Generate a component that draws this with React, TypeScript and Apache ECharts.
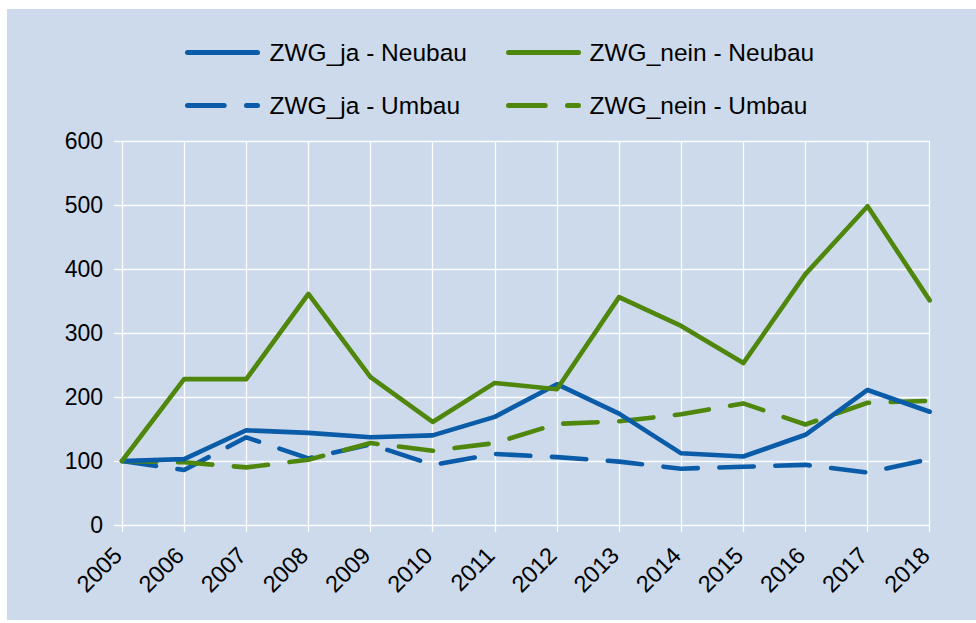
import React, { useEffect, useRef } from "react";
import * as echarts from "echarts";

const years = ["2005", "2006", "2007", "2008", "2009", "2010", "2011", "2012", "2013", "2014", "2015", "2016", "2017", "2018"];
const jaNeubau = [100, 103, 148, 144, 137, 140, 169, 220, 174, 112, 107, 141, 211, 177];
const neinNeubau = [100, 228, 228, 361, 231, 161, 222, 212, 356, 311, 253, 392, 498, 351];
const jaUmbau = [100, 86, 137, 104, 126, 94, 111, 106, 99, 88, 91, 94, 82, 103];
const neinUmbau = [100, 98, 90, 102, 128, 116, 128, 158, 162, 173, 190, 157, 191, 194];
const yTicks = [0, 100, 200, 300, 400, 500, 600];
const seriesNames = ["ZWG_ja - Neubau", "ZWG_nein - Neubau", "ZWG_ja - Umbau", "ZWG_nein - Umbau"];

const BLUE = "#0a5ca8";
const GREEN = "#4f870d";
const BG = "#cddaeb";
const FONT = "'Liberation Sans', Arial, Helvetica, sans-serif";

export default function App() {
  const ref = useRef<HTMLDivElement>(null);
  useEffect(() => {
    if (!ref.current) return;
    const chart = echarts.init(ref.current, null, { renderer: "svg" });
    const chartDash = [34.4, 21.6];
    const legendDash = [36.7, 22.3];
    const LW = 5;

    const legendItem = (name: string, color: string, dashed: boolean, lx: number, tx: number, cy: number) => ({
      type: "group",
      silent: true,
      children: [
        {
          type: "line",
          shape: { x1: lx + LW / 2, y1: cy, x2: lx + 75 - LW / 2, y2: cy },
          style: {
            stroke: color,
            lineWidth: LW,
            lineCap: "round",
            lineDash: dashed ? legendDash : null,
          },
        },
        {
          type: "text",
          x: tx,
          y: cy,
          style: {
            text: name,
            fill: "#000",
            font: `24.5px ${FONT}`,
            textVerticalAlign: "middle",
            textAlign: "left",
          },
        },
      ],
    });

    const mkSeries = (name: string, data: number[], color: string, dashed: boolean) => ({
      name,
      type: "line",
      data,
      symbol: "none",
      showSymbol: false,
      lineStyle: { color, width: 4.6, type: dashed ? chartDash : "solid", cap: "round", join: "round" },
      itemStyle: { color },
      z: dashed ? 3 : 4,
    });

    chart.setOption({
      animation: false,
      backgroundColor: "#ffffff",
      graphic: [
        { type: "rect", left: 7, top: 9, shape: { width: 969, height: 611 }, style: { fill: BG }, z: -10, silent: true },
        legendItem(seriesNames[0], BLUE, false, 185, 269.5, 52.5),
        legendItem(seriesNames[1], GREEN, false, 506, 589.5, 52.5),
        legendItem(seriesNames[2], BLUE, true, 185, 269.5, 105.5),
        legendItem(seriesNames[3], GREEN, true, 506, 589.5, 105.5),
      ],
      grid: { left: 122, right: 46.3, top: 141, bottom: 98, containLabel: false },
      xAxis: {
        type: "category",
        data: years,
        boundaryGap: false,
        axisLine: { show: false },
        axisTick: { show: true, length: 7, lineStyle: { color: "#ffffff", width: 1.3 } },
        splitLine: { show: true, lineStyle: { color: "#ffffff", width: 1.3 } },
        axisLabel: {
          interval: 0,
          rotate: 45,
          margin: 22,
          padding: [0, 6, 0, 0],
          fontSize: 23.5,
          color: "#000",
          fontFamily: FONT,
        },
      },
      yAxis: {
        type: "value",
        min: yTicks[0],
        max: yTicks[yTicks.length - 1],
        interval: 100,
        axisLine: { show: false },
        axisTick: { show: true, length: 8, lineStyle: { color: "#ffffff", width: 1.3 } },
        splitLine: { show: true, lineStyle: { color: "#ffffff", width: 1.3 } },
        axisLabel: {
          margin: 19,
          fontSize: 23,
          color: "#000",
          fontFamily: FONT,
        },
      },
      series: [
        mkSeries(seriesNames[2], jaUmbau, BLUE, true),
        mkSeries(seriesNames[3], neinUmbau, GREEN, true),
        mkSeries(seriesNames[0], jaNeubau, BLUE, false),
        mkSeries(seriesNames[1], neinNeubau, GREEN, false),
      ],
    });
    return () => chart.dispose();
  }, []);
  return (
    <div
      ref={ref}
      style={{ position: "fixed", left: 0, top: 0, width: 976, height: 623 }}
    />
  );
}
